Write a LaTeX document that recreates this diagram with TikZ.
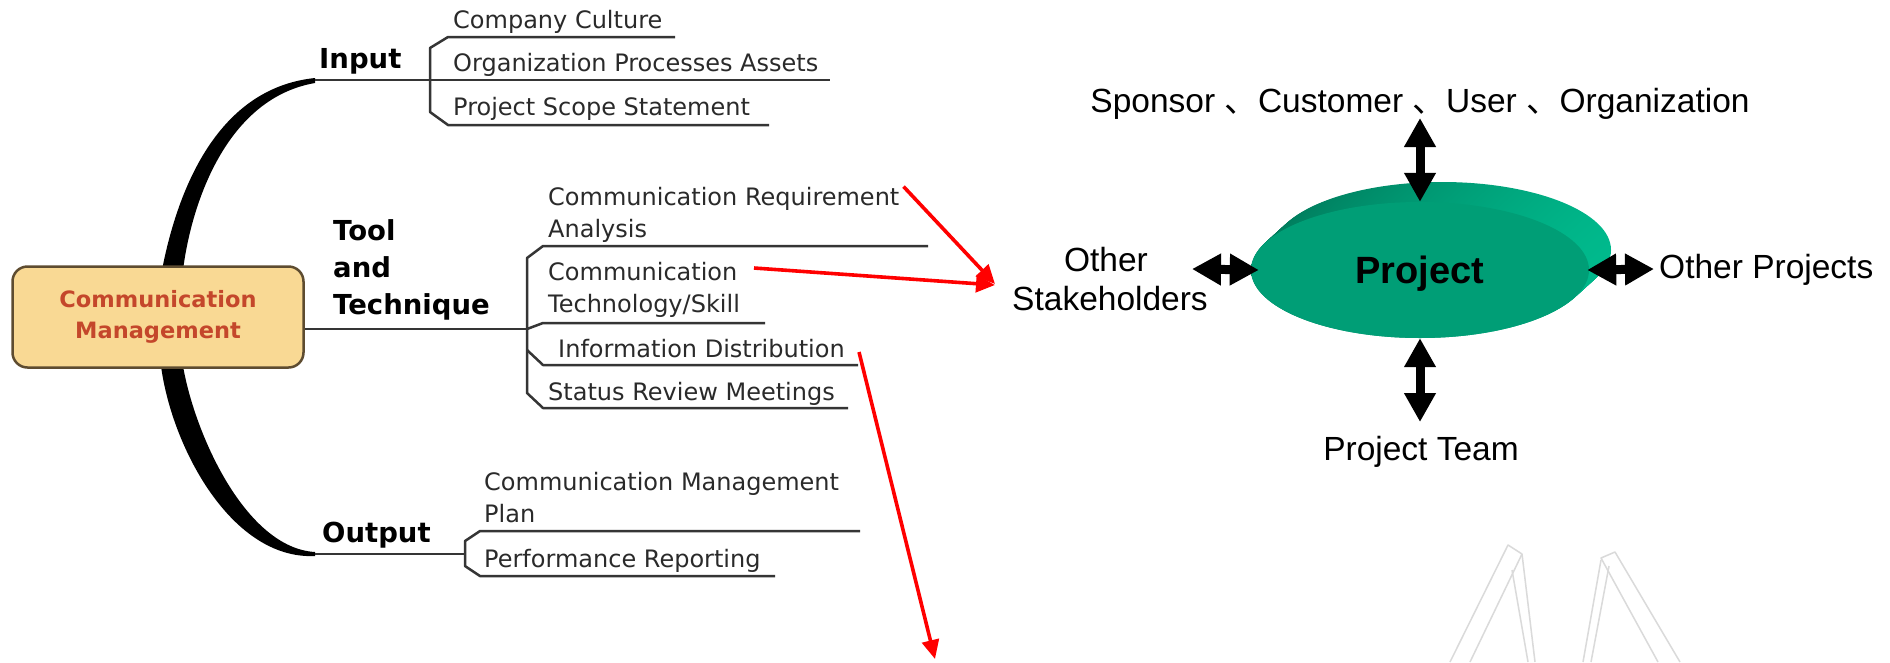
\documentclass[tikz,border=0pt]{standalone}
\usepackage{fontspec}
\usetikzlibrary{arrows.meta,shapes.geometric}
\newfontfamily\mmfont{DejaVu Sans}
\newfontfamily\arfont{Liberation Sans}
\newfontfamily\cjkfont{Noto Sans CJK SC}
\definecolor{boxfill}{HTML}{F9D994}
\definecolor{boxdraw}{HTML}{5E4C30}
\definecolor{boxtext}{HTML}{C4472B}
\definecolor{mmline}{HTML}{353535}
\definecolor{mmtext}{HTML}{2A2A2A}
\definecolor{projfront}{HTML}{009E76}
\definecolor{projdark}{HTML}{007A5B}
\definecolor{projlight}{HTML}{00B98C}
\definecolor{wmgray}{HTML}{DADADA}
\begin{document}
\begin{tikzpicture}[x=1pt,y=-1pt,
  sub/.style={anchor=base west, inner sep=0pt, text=mmtext, font=\mmfont\fontsize{24}{30}\selectfont},
  lbl/.style={anchor=base west, inner sep=0pt, text=black, font=\mmfont\bfseries\fontsize{27.5}{33}\selectfont},
  mm/.style={draw=mmline, line width=2.5pt, line join=round},
  cmbox/.style={draw=boxdraw, fill=boxfill, line width=2.5pt, rounded corners=15pt,
    minimum width=291pt, minimum height=101pt, align=center, text=boxtext,
    font=\mmfont\bfseries\fontsize{22.5}{31}\selectfont},
  redarrow/.style={draw=red, line width=3.6pt, -{Triangle[length=19pt,width=17pt]}},
  bigarrow/.style={line width=9pt, {Triangle[length=29pt,width=30pt]}-{Triangle[length=29pt,width=30pt]}},
  rtext/.style={anchor=base, inner sep=0pt, text=black, font=\arfont\fontsize{33.5}{38}\selectfont},
  wm/.style={draw=wmgray, line width=1.5pt, line join=round}
]
\useasboundingbox[fill=white] (0,0) rectangle (1890,662);

% ---------- watermark ----------
\draw[wm] (1450,662) -- (1508,545) -- (1522,554) -- (1470,662);
\draw[wm] (1522,554) -- (1535,662);
\draw[wm] (1512,570) -- (1528,662);
\draw[wm] (1658,662) -- (1601,558) -- (1615,552) -- (1680,662);
\draw[wm] (1601,560) -- (1583,662);
\draw[wm] (1609,566) -- (1591,662);

% ---------- black swooshes ----------
\coordinate (inStart) at (315,80);
\coordinate (outStart) at (315,554);
\fill[black] (162,270) .. controls (178,188) and (218,88) .. (315,78)
  -- (315,83) .. controls (228,98) and (192,200) .. (183,270) -- cycle;
\fill[black] (161,366) .. controls (172,448) and (232,560) .. (315,556)
  -- (315,552) .. controls (246,548) and (195,435) .. (183,366) -- cycle;

% ---------- central box ----------
\node[cmbox] (cm) at (158,317) {Communication\\Management};

% ---------- Input ----------
\node[lbl] (input) at (319,68) {Input};
\coordinate (inJ) at (430,80);
\draw[mm] (inStart) -- (inJ) -- (830,80);
\draw[mm] (675,37) -- (448,37) -- (430,48) -- (430,112) -- (448,125) -- (769,125);
\node[sub] (cc) at (453,28) {Company Culture};
\node[sub] (opa) at (453,71) {Organization Processes Assets};
\node[sub] (pss) at (453,115) {Project Scope Statement};

% ---------- Tool and Technique ----------
\node[lbl] (tool) at (333,240) {Tool};
\node[lbl] (and) at (333,277) {and};
\node[lbl] (tech) at (333,314) {Technique};
\coordinate (ttJ) at (527,329);
\draw[mm] (cm.east |- ttJ) -- (ttJ);
\draw[mm] (928,246) -- (543,246) -- (527,258) -- (527,393) -- (543,408) -- (848,408);
\draw[mm] (ttJ) -- (543,323) -- (765,323);
\draw[mm] (527,350) -- (543,365) -- (858,365);
\node[sub] (cra1) at (548,205) {Communication Requirement};
\node[sub] (cra2) at (548,237) {Analysis};
\node[sub] (cts1) at (548,280) {Communication};
\node[sub] (cts2) at (548,312) {Technology/Skill};
\node[sub] (idist) at (558,357) {Information Distribution};
\node[sub] (srm) at (548,400) {Status Review Meetings};

% ---------- Output ----------
\node[lbl] (output) at (322,542) {Output};
\coordinate (outJ) at (465,554);
\draw[mm] (outStart) -- (outJ);
\draw[mm] (860,531) -- (480,531) -- (465,541) -- (465,566) -- (480,576) -- (775,576);
\node[sub] (cmp1) at (484,490) {Communication Management};
\node[sub] (cmp2) at (484,522) {Plan};
\node[sub] (pr) at (484,567) {Performance Reporting};

% ---------- right diagram ----------
\foreach \i in {0,...,22} {
  \shade[left color=projdark, right color=projlight]
    ({1442-\i}, {250+20*\i/22}) ellipse [x radius=169pt, y radius=68pt];
}
\node[ellipse, fill=projfront, minimum width=338pt, minimum height=136pt, inner sep=0pt,
      text depth=0pt, text=black, font=\arfont\bfseries\fontsize{38}{40}\selectfont] (proj) at (1420,270) {Project};

\node[rtext] (spons) at (1420,112) {Sponsor {\cjkfont 、}Customer {\cjkfont 、}User {\cjkfont 、}Organization};
\node[rtext] (oth1) at (1106,271) {Other};
\node[rtext] (oth2) at (1110,310) {Stakeholders};
\node[rtext, anchor=base west] (othp) at (1659,278) {Other Projects};
\node[rtext] (team) at (1421,460) {Project Team};

\coordinate (topA) at (1420,118);
\coordinate (botA) at (1420,422);
\coordinate (leftA) at (1192,269);
\coordinate (rightA) at (1654,269);
\draw[bigarrow] (topA) -- (proj.north);
\draw[bigarrow] (proj.south) -- (botA);
\draw[bigarrow] (leftA) -- ([xshift=8pt]proj.west);
\draw[bigarrow] ([xshift=-2pt]proj.east) -- (rightA);

% ---------- red arrows ----------
\coordinate (tgt) at (995,284);
\coordinate (a2s) at (754,268);
\coordinate (a3s) at (859,352);
\coordinate (a3e) at (935,659);
\draw[redarrow] ([xshift=4pt]cra1.north east) -- (tgt);
\draw[redarrow] (a2s) -- ([yshift=-1pt]tgt);
\draw[redarrow] (a3s) -- (a3e);
\end{tikzpicture}
\end{document}
